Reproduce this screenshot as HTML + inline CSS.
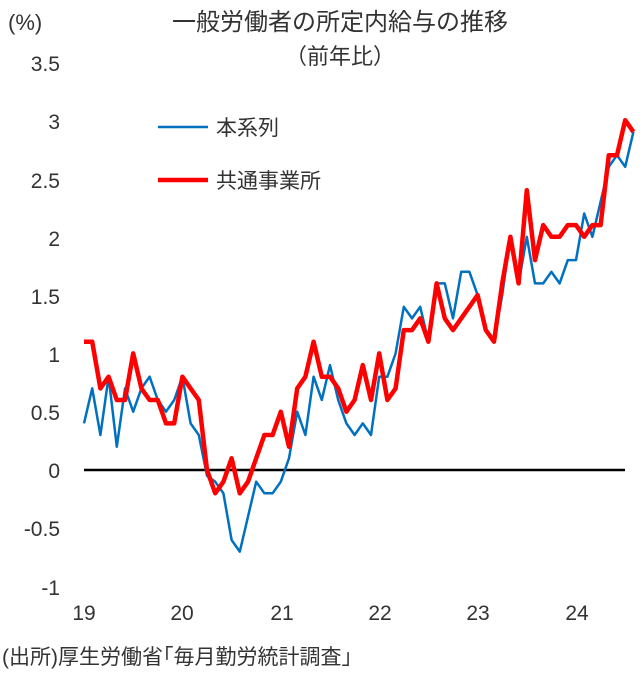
<!DOCTYPE html><html><head><meta charset="utf-8"><style>body{margin:0;background:#fff}svg{display:block}text{font-family:"Liberation Sans","Noto Sans CJK JP",sans-serif;fill:#333}</style></head><body>
<svg width="644" height="673" xmlns="http://www.w3.org/2000/svg">
<text x="8" y="30" font-size="22">(%)</text>
<text x="340" y="30" font-size="24" text-anchor="middle">一般労働者の所定内給与の推移</text>
<text x="340" y="64" font-size="22" text-anchor="middle">（前年比）</text>
<g font-size="21" text-anchor="end">
<text x="60" y="71">3.5</text><text x="60" y="129">3</text><text x="60" y="188">2.5</text><text x="60" y="246">2</text><text x="60" y="304">1.5</text><text x="60" y="362">1</text><text x="60" y="420">0.5</text><text x="60" y="478">0</text><text x="60" y="536">-0.5</text><text x="60" y="595">-1</text>
</g>
<g font-size="21" text-anchor="middle">
<text x="84" y="620">19</text><text x="182" y="620">20</text><text x="282" y="620">21</text><text x="380" y="620">22</text><text x="478" y="620">23</text><text x="577" y="620">24</text>
</g>
<line x1="84" y1="470" x2="625" y2="470" stroke="#000" stroke-width="2.5"/>
<line x1="158" y1="127" x2="208" y2="127" stroke="#0070C0" stroke-width="2.5"/>
<text x="216" y="135" font-size="21">本系列</text>
<line x1="158" y1="180" x2="208" y2="180" stroke="#FF0000" stroke-width="4.5"/>
<text x="216" y="188" font-size="21">共通事業所</text>
<text x="2" y="664" font-size="21">(出所)厚生労働省｢毎月勤労統計調査｣</text>
<polyline fill="none" stroke="#0070C0" stroke-width="2.5" stroke-linejoin="round" points="84,423.4 92.2,388.4 100.4,435 108.6,376.7 116.8,446.7 125,388.4 133.2,411.7 141.4,388.4 149.6,376.7 157.8,400 166,411.7 174.2,400 182.4,376.7 190.6,423.4 198.8,435 207,475.8 215.2,481.7 223.4,493.3 231.6,540 239.8,551.6 248,516.6 256.2,481.7 264.4,493.3 272.6,493.3 280.8,481.7 289,458.3 297.2,411.7 305.4,435 313.6,376.7 321.8,400 330,365.1 338.2,400 346.4,423.4 354.6,435 362.8,423.4 371,435 379.2,376.7 387.4,376.7 395.6,353.4 403.8,306.8 412,318.4 420.2,306.8 428.4,341.7 436.6,283.4 444.8,283.4 453,318.4 461.2,271.8 469.4,271.8 477.6,295.1 485.8,330.1 494,341.7 502.2,295.1 510.4,236.8 518.6,283.4 526.8,236.8 535,283.4 543.2,283.4 551.4,271.8 559.6,283.4 567.8,260.1 576,260.1 584.2,213.5 592.4,236.8 600.6,201.8 608.8,166.8 617,155.2 625.2,166.8 633.4,131.9"/>
<polyline fill="none" stroke="#FF0000" stroke-width="4.5" stroke-linejoin="round" points="84,341.7 92.2,341.7 100.4,388.4 108.6,376.7 116.8,400 125,400 133.2,353.4 141.4,388.4 149.6,400 157.8,400 166,423.4 174.2,423.4 182.4,376.7 190.6,388.4 198.8,400 207,470 215.2,493.3 223.4,481.7 231.6,458.3 239.8,493.3 248,481.7 256.2,458.3 264.4,435 272.6,435 280.8,411.7 289,446.7 297.2,388.4 305.4,376.7 313.6,341.7 321.8,376.7 330,376.7 338.2,388.4 346.4,411.7 354.6,400 362.8,365.1 371,400 379.2,353.4 387.4,400 395.6,388.4 403.8,330.1 412,330.1 420.2,318.4 428.4,341.7 436.6,283.4 444.8,318.4 453,330.1 461.2,318.4 469.4,306.8 477.6,295.1 485.8,330.1 494,341.7 502.2,283.4 510.4,236.8 518.6,283.4 526.8,190.2 535,260.1 543.2,225.1 551.4,236.8 559.6,236.8 567.8,225.1 576,225.1 584.2,236.8 592.4,225.1 600.6,225.1 608.8,155.2 617,155.2 625.2,120.2 633.4,131.9"/>
</svg></body></html>
